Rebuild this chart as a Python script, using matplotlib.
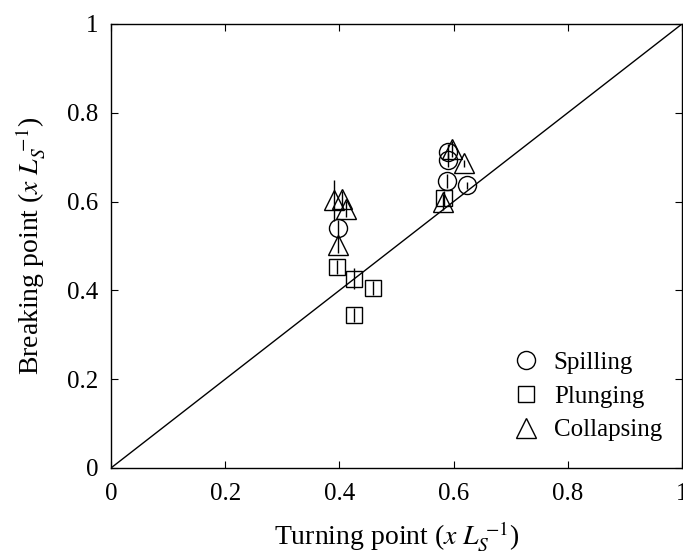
import matplotlib
matplotlib.use("Agg")
import matplotlib.pyplot as plt

plt.rcParams['font.family'] = ['Liberation Serif', 'DejaVu Serif']
plt.rcParams['mathtext.fontset'] = 'stix'

# Spilling breakers (circles)
spill_x = [0.398, 0.591, 0.591, 0.588, 0.623]
spill_y = [0.540, 0.712, 0.694, 0.646, 0.637]
spill_err = [0.018, 0.018, 0.015, 0.015, 0.008]

# Plunging breakers (squares)
plunge_x = [0.396, 0.426, 0.459, 0.426, 0.583]
plunge_y = [0.452, 0.426, 0.405, 0.345, 0.607]
plunge_err = [0.016, 0.024, 0.016, 0.016, 0.016]

# Collapsing breakers (triangles)
collapse_x = [0.390, 0.404, 0.412, 0.398, 0.597, 0.619, 0.582]
collapse_y = [0.603, 0.605, 0.583, 0.502, 0.718, 0.686, 0.598]
collapse_err = [0.046, 0.018, 0.018, 0.018, 0.018, 0.008, 0.018]

ticks = [0, 0.2, 0.4, 0.6, 0.8, 1]
tick_labels = ["0", "0.2", "0.4", "0.6", "0.8", "1"]

fig = plt.figure(figsize=(6.83, 5.55), dpi=100)
ax = fig.add_axes([0.1625, 0.1568, 0.836, 0.80])

ax.plot([0, 1], [0, 1], color="black", lw=1.0)

style = dict(ls="none", mfc="none", mec="black", mew=1.0, ecolor="black",
             elinewidth=1.0, capsize=0)
ax.errorbar(spill_x, spill_y, yerr=spill_err, marker="o", ms=13, label="Spilling", **style)
ax.errorbar(plunge_x, plunge_y, yerr=plunge_err, marker="s", ms=11, label="Plunging", **style)
ax.errorbar(collapse_x, collapse_y, yerr=collapse_err, marker="^", ms=15, label="Collapsing", **style)

ax.set_xlim(0, 1)
ax.set_ylim(0, 1)
ax.set_xticks(ticks)
ax.set_xticklabels(tick_labels)
ax.set_yticks(ticks)
ax.set_yticklabels(tick_labels)
ax.tick_params(direction="in", top=True, right=True, labelsize=18, length=5)
ax.tick_params(axis="x", pad=11)
ax.tick_params(axis="y", pad=9)
for s in ax.spines.values():
    s.set_linewidth(1.0)

ax.set_xlabel(r"Turning point ($x\ L_S^{\ \mathrm{-1}}$)", fontsize=20, labelpad=10)
ax.set_ylabel(r"Breaking point ($x\ L_S^{\ \mathrm{-1}}$)", fontsize=20, labelpad=14)

# legend without error bars
h, l = ax.get_legend_handles_labels()
h = [hh[0] for hh in h]
ax.legend(h, l, loc="lower right", frameon=False, fontsize=18,
          handlelength=1.2, handletextpad=0.5, labelspacing=0.45,
          borderpad=0, borderaxespad=0, bbox_to_anchor=(0.965, 0.06))

fig.savefig("out.png", dpi=100)
